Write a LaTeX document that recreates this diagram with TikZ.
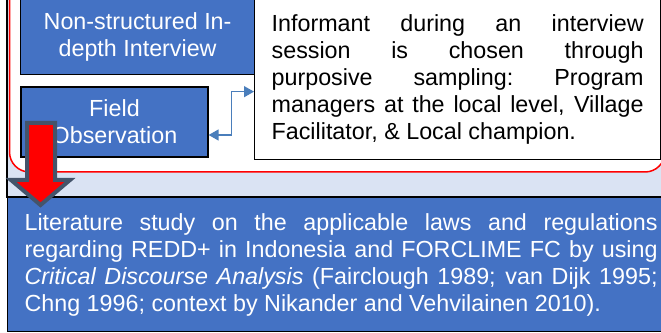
\documentclass[tikz,border=0pt]{standalone}
\usepackage{fontspec}
\setmainfont{Liberation Sans}
\usetikzlibrary{arrows.meta, positioning}
\definecolor{BoxBlue}{RGB}{68, 114, 196}
\definecolor{PaleBlue}{RGB}{218, 227, 243}
\definecolor{LinkBlue}{RGB}{74, 126, 187}
\definecolor{ArrowRed}{RGB}{255, 0, 0}
\definecolor{SlateEdge}{RGB}{68, 84, 106}
\newcommand{\jline}[1]{\leavevmode\hbox to \hsize{\spaceskip=.278em plus 10em\xspaceskip=\spaceskip #1}}

\begin{document}
\begin{tikzpicture}[x=1pt, y=1pt, font=\fontsize{23.3}{27}\selectfont,
    bluebox/.style={fill=BoxBlue, draw=black, line width=1.2pt, text=white, inner sep=0pt},
    link/.style={draw=LinkBlue, line width=1.3pt, {Triangle[length=10pt, width=11pt]}-{Triangle[length=10pt, width=11pt]}}]
        \clip (0,0) rectangle (661,332);
        \filldraw[fill=PaleBlue, draw=black, line width=1.3pt] (7,135) rectangle (680,345);
        \draw[red, fill=white, line width=1.5pt, rounded corners=20pt] (9.5,160) rectangle (665,350);

        \node[bluebox, align=center, minimum width=234pt, minimum height=76pt, anchor=north west] (nonstruct) at (20,334) {Non-structured In-\\depth Interview};
        \node[draw=black, fill=white, line width=1.3pt, text width=372pt, inner xsep=17pt, inner ysep=0pt, minimum height=161pt, align=flush left, anchor=north west] (informant) at (254,334)
            {\jline{Informant during an interview}\\\jline{session is chosen through}\\\jline{purposive sampling: Program}\\\jline{managers at the local level, Village}\\Facilitator, \& Local champion.};
        \node[bluebox, align=center, minimum width=187pt, minimum height=70pt] (fieldobs) at (114.5,210) {Field\\Observation};

        \draw[link] ([yshift=-13pt]fieldobs.east) -- ++(23,0) |- ([yshift=-12.5pt]informant.west);

        \node[bluebox, text width=633pt, inner xsep=17pt, minimum height=134pt, align=flush left, anchor=north west] (litstudy) at (7,135)
            {\jline{Literature study on the applicable laws and regulations}\\\jline{regarding REDD+ in Indonesia and FORCLIME FC by using}\\\jline{\textit{Critical Discourse Analysis} (Fairclough 1989; van Dijk 1995;}\\Chng 1996; context by Nikander and Vehvilainen 2010).};

        \draw[fill=ArrowRed, draw=SlateEdge, line width=4pt] (27,209) -- (55,209) -- (55,152) -- (70,152) -- (40.5,127) -- (11,152) -- (27,152) -- cycle;
\end{tikzpicture}
\end{document}
